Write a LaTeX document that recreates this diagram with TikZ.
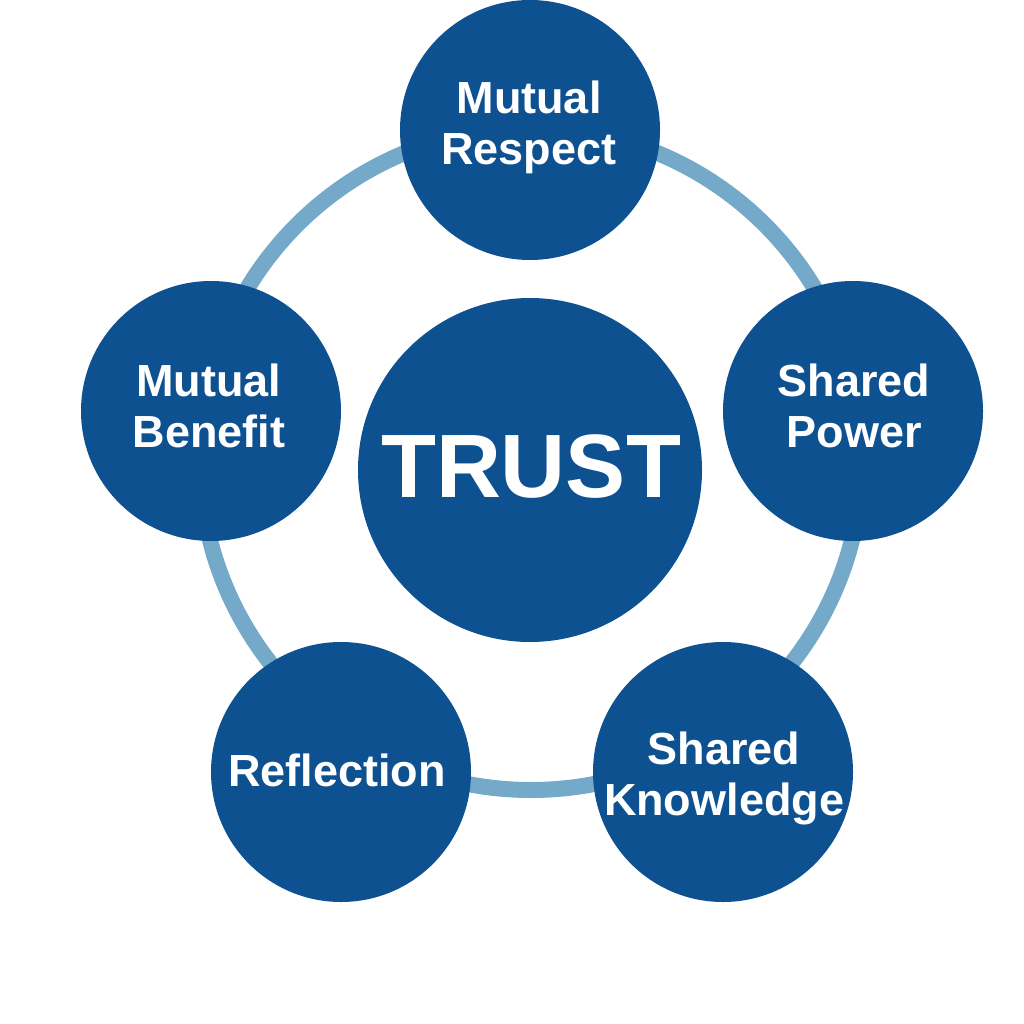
\documentclass[tikz,border=0pt]{standalone}
\usepackage{fontspec}
\setmainfont{Liberation Sans}
\definecolor{dkblue}{RGB}{14,81,144}
\definecolor{ringblue}{RGB}{116,169,201}
\begin{document}
\begin{tikzpicture}[x=1pt,y=-1pt,
  sat/.style={circle,fill=dkblue,minimum size=260pt,inner sep=0pt},
  core/.style={circle,fill=dkblue,minimum size=344pt,inner sep=0pt},
  lbl/.style={text=white,font=\fontsize{45}{51}\selectfont\bfseries,align=center,inner sep=0pt,anchor=base},
  ring/.style={draw=ringblue,line width=16pt}
  ]
\useasboundingbox (0,0) rectangle (1024,1024);
\coordinate (rc) at (531,459);
\draw[ring] (rc) circle[radius=331pt];
\node[core] (trust) at (530,470) {};
\node[sat] (mr) at (530,130) {};
\node[sat] (mb) at (211,411) {};
\node[sat] (sp) at (853,411) {};
\node[sat] (rf) at (341,772) {};
\node[sat] (sk) at (723,772) {};
\node[lbl,font=\fontsize{90}{90}\selectfont\bfseries] (trustT) at (531,497) {TRUST};
\node[lbl] (mrT) at (529,165) {Mutual\\Respect};
\node[lbl] (mbT) at (209,447) {Mutual\\Benefit};
\node[lbl] (spT) at (854,447) {Shared\\Power};
\node[lbl] (rfT) at (337,786) {Reflection};
\node[lbl] (skT) at (724,815) {Shared\\Knowledge};
\end{tikzpicture}
\end{document}
